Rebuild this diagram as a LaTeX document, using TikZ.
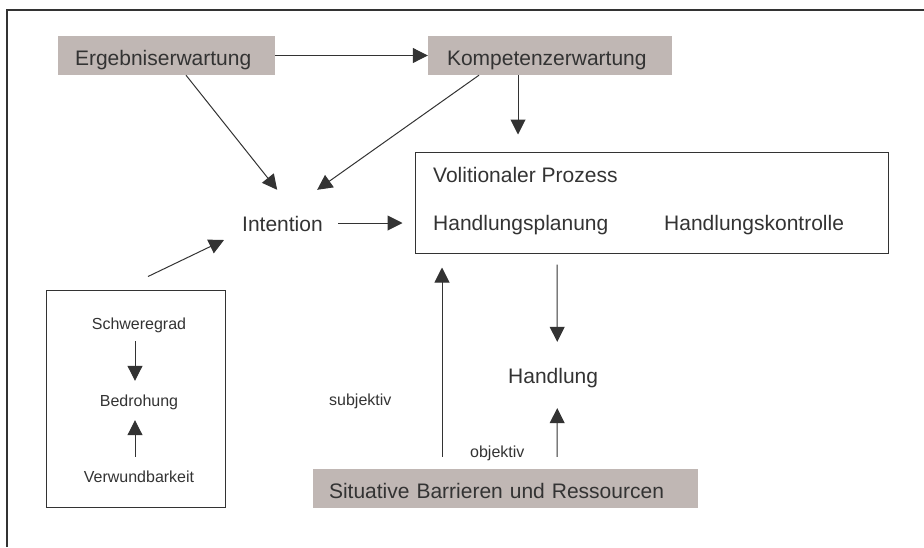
\documentclass[tikz,border=0pt]{standalone}
\usepackage{fontspec}
\setmainfont{Liberation Sans}
\usetikzlibrary{arrows.meta}
\definecolor{ink}{RGB}{51,51,51}
\definecolor{taupe}{RGB}{192,183,180}
\begin{document}
\begin{tikzpicture}[x=1pt,y=-1pt,
  big/.style={font=\fontsize{21}{25}\selectfont, text=ink, inner sep=0pt,
    text height=15pt, text depth=4.4pt},
  small/.style={font=\fontsize{16}{19}\selectfont, text=ink, inner sep=0pt,
    text height=11.6pt, text depth=3.4pt},
  shaded/.style={big, fill=taupe, inner ysep=0pt, minimum height=39pt,
    text height=19pt, text depth=0pt, align=left},
  framebox/.style={draw=ink, line width=1pt, inner sep=0pt},
  arr/.style={draw=ink, line width=1pt, -{Triangle[length=15pt,width=15pt]}},
]
\useasboundingbox (0,0) rectangle (924,547);

% outer frame (top and left edges)
\draw[ink, line width=2pt] (7,547) -- (7,10) -- (924,10);

% shaded boxes
\node[shaded, inner xsep=17pt, text width=183pt] (erg) at (166.5,55.5) {Ergebniserwartung};
\node[shaded, inner xsep=19pt, text width=206pt] (komp) at (550,55.5) {Kompetenzerwartung};
\node[shaded, inner xsep=16pt, text width=353pt] (sit) at (505.5,488.5) {Situative Barrieren und Ressourcen};

% volitional process box
\node[framebox, minimum width=473pt, minimum height=101pt] (vol) at (651.5,202.5) {};
\node[big, anchor=base west] (vp) at (433,182) {Volitionaler Prozess};
\node[big, anchor=base west] (hp) at (433,230) {Handlungsplanung};
\node[big, anchor=base west] (hk) at (664,230) {Handlungskontrolle};

% threat box
\node[framebox, minimum width=179pt, minimum height=217pt] (lb) at (135.5,398.5) {};
\node[small, anchor=base] (schw) at (139,329) {Schweregrad};
\node[small, anchor=base] (bed) at (139,406) {Bedrohung};
\node[small, anchor=base] (verw) at (139,482) {Verwundbarkeit};

% free labels
\node[big, anchor=base west] (int) at (242,231) {Intention};
\node[big, anchor=base west] (hand) at (508,383) {Handlung};
\node[small, anchor=base west] (subj) at (329,405) {subjektiv};
\node[small, anchor=base west] (obj) at (470,457) {objektiv};

% connectors
\draw[arr] (erg.east) -- (komp.west);
\draw[arr] ([xshift=19.5pt]erg.south) -- ([shift={(-5.3pt,26pt)}]int.north);
\draw[arr] ([xshift=-71pt]komp.south) -- ([shift={(34.7pt,26pt)}]int.north);
\draw[arr] ([xshift=-32pt]komp.south) -- ([shift={(-133.5pt,17pt)}]vol.north);
\draw[arr] ([shift={(15.4pt,2.7pt)}]int.east) -- ([shift={(-12pt,-20.5pt)}]vol.west);
\draw[arr] ([shift={(12.5pt,13pt)}]lb.north) -- ([shift={(-18pt,-14.3pt)}]int.west);
\draw[arr] ([shift={(-4pt,-8.6pt)}]schw.south) -- ([shift={(-4pt,13.4pt)}]bed.north);
\draw[arr] ([shift={(-4pt,13.4pt)}]verw.north) -- ([shift={(-4pt,-10.6pt)}]bed.south);
\draw[arr] ([shift={(-94.5pt,-11pt)}]vol.south) -- ([shift={(4.1pt,26pt)}]hand.north);
\draw[arr] ([shift={(51.5pt,12pt)}]sit.north) -- ([shift={(4.1pt,-20.6pt)}]hand.south);
\draw[arr] ([shift={(-63.5pt,12pt)}]sit.north) -- ([shift={(-209.5pt,-14pt)}]vol.south);
\end{tikzpicture}
\end{document}
